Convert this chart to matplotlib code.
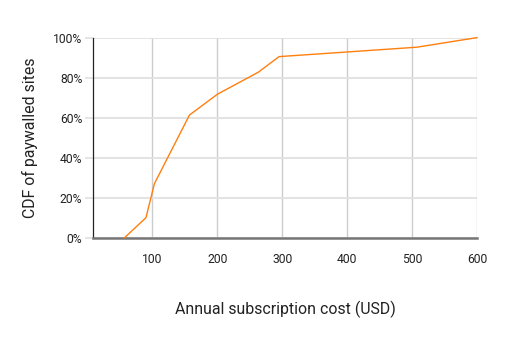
import matplotlib
matplotlib.use("Agg")
import matplotlib.pyplot as plt
from matplotlib.ticker import FixedLocator, PercentFormatter

# annual subscription cost (USD) vs CDF of paywalled sites (%)
cost = [57, 90, 103, 157, 200, 263, 295, 507, 600]
cdf = [0, 10, 27, 61.3, 71.7, 82.7, 90.5, 95.2, 100]

x_ticks = [100, 200, 300, 400, 500, 600]
y_ticks = [0, 20, 40, 60, 80, 100]

plt.rcParams['font.family'] = ['Roboto', 'DejaVu Sans']

fig = plt.figure(figsize=(5.13, 3.45), dpi=100)
ax = fig.add_axes([0.182, 0.311, 0.748, 0.580])

ax.plot(cost, cdf, color='#ff7f0e', lw=1.0, zorder=3, clip_on=False)

ax.set_xlim(9, 600)
ax.set_ylim(0, 100)
ax.xaxis.set_major_locator(FixedLocator(x_ticks))
ax.yaxis.set_major_locator(FixedLocator(y_ticks))
ax.yaxis.set_major_formatter(PercentFormatter(decimals=0))

# grid lines
ax.grid(axis='y', color='#e0e0e0', lw=1.3)
ax.grid(axis='x', color='#cccccc', lw=1.0)
ax.set_axisbelow(True)

for side in ['top', 'right']:
    ax.spines[side].set_visible(False)
ax.spines['left'].set_color('#222222')
ax.spines['left'].set_linewidth(0.9)
ax.spines['bottom'].set_color('#777777')
ax.spines['bottom'].set_linewidth(1.8)

ax.tick_params(axis='x', length=0, pad=11, labelsize=8.7, labelcolor='#222222')
ax.tick_params(axis='y', length=6, width=1.2, color='#e0e0e0', pad=2,
               labelsize=8.7, labelcolor='#222222')
yt = ax.yaxis.get_major_ticks()
yt[0].tick1line.set_color('#777777')
yt[-1].tick1line.set_color('#222222')

ax.set_xlabel('Annual subscription cost (USD)', fontsize=11.4,
              color='#222222', labelpad=25)
ax.set_ylabel('CDF of paywalled sites', fontsize=11.4, color='#222222',
              labelpad=11)

fig.savefig('out.png', dpi=100)
